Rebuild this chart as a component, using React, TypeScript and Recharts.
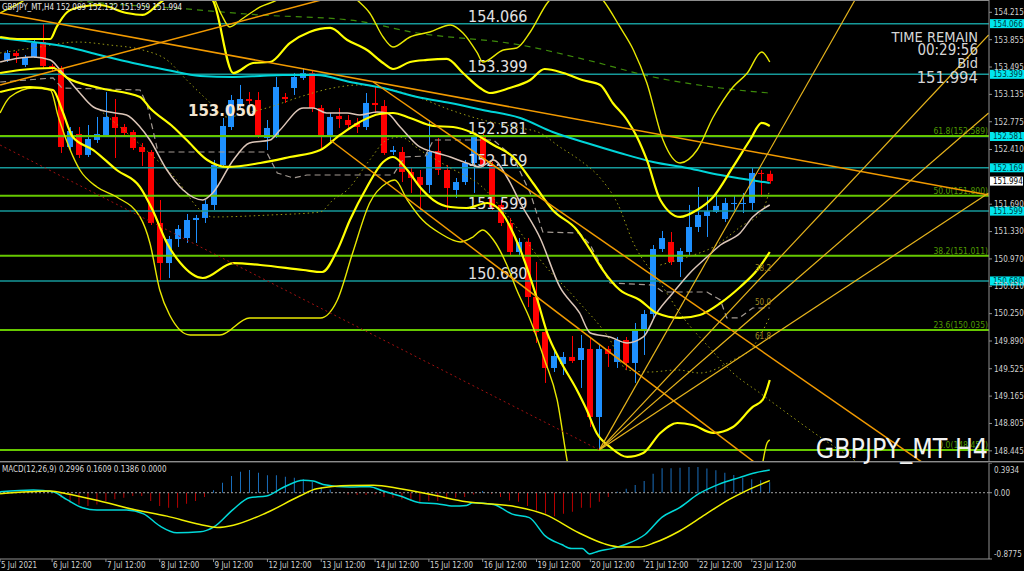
import React from "react"
import {
  Bar,
  Cell,
  ComposedChart,
  Line,
  ReferenceLine,
  XAxis,
  YAxis,
} from "recharts"

type Pt = [number, number]

const NARROW =
  "'Liberation Sans Narrow', 'DejaVu Sans Condensed', 'Liberation Sans', sans-serif"

// GBPJPY H4 bars, index 0 = 5 Jul 16:00 ... 85 = 23 Jul 20:00
const opens = [
  153.588, 153.68, 153.522, 153.627, 153.824, 153.509, 153.482, 152.443, 152.614, 152.338,
  152.535, 152.601, 152.838, 152.706, 152.64, 152.443, 152.377, 151.443, 150.916, 151.232,
  151.245, 151.482, 151.509, 151.68, 152.206, 152.706, 152.995, 153.074, 153.061, 152.561,
  152.601, 153.101, 153.219, 153.351, 153.416, 152.956, 152.601, 152.851, 152.798, 152.759,
  152.706, 153.022, 152.982, 152.377, 152.377, 152.114, 152.048, 151.943, 152.39, 152.14,
  151.877, 151.982, 152.232, 152.574, 152.206, 151.68, 151.443, 151.061, 151.193, 150.469,
  150.008, 149.535, 149.588, 149.68, 149.64, 149.785, 148.89, 149.785, 149.614, 149.903,
  149.601, 150.035, 150.245, 151.101, 151.193, 150.93, 151.061, 151.39, 151.535, 151.588,
  151.495, 151.693, 151.693, 151.706, 152.101, 152.089,
]
const highs = [
  153.719, 153.706, 153.653, 153.851, 154.074, 153.535, 153.509, 152.706, 152.706, 152.732,
  152.838, 153.166, 153.074, 152.745, 152.666, 152.495, 152.403, 151.745, 151.272, 151.416,
  151.561, 151.548, 151.745, 152.272, 152.824, 153.127, 153.259, 153.166, 153.166, 152.798,
  153.364, 153.153, 153.416, 153.482, 153.456, 152.995, 152.89, 152.956, 152.864, 152.824,
  153.153, 153.232, 153.061, 152.456, 152.443, 152.166, 152.14, 152.798, 152.561, 152.206,
  152.035, 152.272, 152.601, 152.614, 152.245, 151.745, 151.509, 151.245, 151.245, 150.93,
  150.061, 149.759, 149.745, 149.956, 149.969, 149.943, 149.838, 149.824, 149.943, 149.943,
  150.127, 150.298, 151.153, 151.338, 151.324, 151.114, 151.68, 151.916, 151.811, 151.838,
  151.772, 151.811, 151.838, 152.166, 152.14, 152.132,
]
const lows = [
  153.561, 153.548, 153.495, 153.614, 153.482, 153.43, 152.364, 152.403, 152.298, 152.311,
  152.495, 152.574, 152.298, 152.587, 152.403, 152.193, 151.416, 150.693, 150.719, 151.127,
  151.18, 151.18, 151.443, 151.614, 152.18, 152.666, 152.956, 153.009, 152.561, 152.403,
  152.561, 153.022, 153.127, 153.324, 152.903, 152.43, 152.508, 152.693, 152.666, 152.627,
  152.666, 152.89, 152.338, 152.338, 151.982, 151.838, 151.614, 151.838, 152.074, 151.614,
  151.772, 151.943, 151.838, 152.18, 151.614, 151.403, 151.009, 151.009, 150.337, 149.864,
  149.338, 149.482, 149.443, 149.601, 149.272, 148.759, 148.457, 149.548, 149.535, 149.509,
  149.338, 149.706, 150.193, 151.061, 150.89, 150.732, 151.022, 151.324, 151.259, 151.574,
  151.456, 151.614, 151.574, 151.614, 151.785, 151.959,
]
const closes = [
  153.68, 153.64, 153.627, 153.811, 153.509, 153.469, 152.443, 152.653, 152.338, 152.548,
  152.614, 152.838, 152.693, 152.627, 152.43, 152.377, 151.443, 150.916, 151.232, 151.364,
  151.482, 151.509, 151.693, 152.206, 152.719, 153.061, 153.074, 153.048, 152.601, 152.693,
  153.232, 153.074, 153.364, 153.416, 152.956, 152.601, 152.838, 152.811, 152.732, 152.706,
  153.022, 152.995, 152.364, 152.403, 152.114, 152.035, 151.943, 152.377, 152.14, 151.903,
  151.982, 152.232, 152.574, 152.206, 151.653, 151.443, 151.061, 151.193, 150.469, 150.008,
  149.535, 149.693, 149.68, 149.627, 149.798, 148.89, 149.785, 149.719, 149.903, 149.601,
  150.022, 150.245, 151.101, 151.245, 150.93, 151.074, 151.39, 151.548, 151.601, 151.667,
  151.706, 151.706, 151.706, 152.101, 152.088, 151.994,
]

const X_MIN = -0.81
const X_MAX = 109.44
const PRICE_MIN = 148.311
const PRICE_MAX = 154.377
const MACD_MIN = -0.8775
const MACD_MAX = 0.3934

const priceTicks = [
  154.215, 153.855, 153.495, 153.135, 152.775, 152.41, 151.69, 151.33, 150.97, 150.61,
  150.25, 149.89, 149.525, 149.165, 148.805, 148.445,
]
const dateTickIdx = [X_MIN, 5, 11, 17, 23, 29, 35, 41, 47, 53, 59, 65, 71, 77, 83]
const dateTickText = [
  "5 Jul 2021", "6 Jul 12:00", "7 Jul 12:00", "8 Jul 12:00", "9 Jul 12:00",
  "12 Jul 12:00", "13 Jul 12:00", "14 Jul 12:00", "15 Jul 12:00", "16 Jul 12:00",
  "19 Jul 12:00", "20 Jul 12:00", "21 Jul 12:00", "22 Jul 12:00", "23 Jul 12:00",
]
const levelPrices = [154.066, 153.399, 152.581, 152.169, 151.599, 150.68]
const fibRatios = ["61.8", "50.0", "38.2", "23.6", "0.0"]
const fibPrices = [152.589, 151.8, 151.011, 150.035, 148.457]
const bidPrice = 151.994

// bollinger bands, [bar index, price]
const bbUpper3: Pt[] = [
  [-0.8, 154.206], [1.4, 154.338], [3.6, 154.509], [10.3, 154.903], [20.4, 154.772],
  [22.9, 154.443], [23.9, 154.18], [24.8, 154.022], [26, 154.114], [28.2, 154.285],
  [30.1, 154.377], [32.6, 154.574], [37.1, 154.574], [39, 154.377], [40.4, 154.206],
  [41.9, 153.89], [43, 153.759], [44.9, 153.89], [47.1, 153.956], [49.4, 154.048],
  [50.8, 153.943], [52.4, 153.68], [53, 153.561], [55.3, 153.719], [56.8, 153.745],
  [58.3, 153.956], [60.2, 154.338], [63.3, 154.574], [65.3, 154.509], [66.4, 154.377],
  [68.3, 154.022], [69.8, 153.719], [71.3, 153.285], [73.1, 152.535], [75, 152.232],
  [76.9, 152.403], [78.7, 152.837], [80.9, 153.232], [82.5, 153.416], [84.1, 153.693],
  [85, 153.561],
]
const bbUpper2: Pt[] = [
  [-0.8, 153.89], [1.1, 153.864], [4.8, 153.864], [5.5, 154.022], [6.7, 154.219],
  [8.1, 154.285], [10.3, 154.311], [13.3, 154.206], [15.1, 154.18], [17, 154.338],
  [18.7, 154.482], [20.9, 154.535], [22.9, 154.377], [25.2, 153.416], [27.4, 153.548],
  [29.3, 153.561], [31.5, 153.811], [33.7, 153.956], [36, 154.009], [37.9, 153.851],
  [40.1, 153.719], [41.9, 153.548], [43, 153.469], [44.9, 153.561], [46.8, 153.588],
  [49, 153.601], [50.8, 153.416], [52.7, 153.219], [53.8, 153.153], [56, 153.219],
  [58.3, 153.324], [59.9, 153.469], [62, 153.416], [64.1, 153.324], [66.1, 153.259],
  [67.5, 153.022], [69.1, 152.798], [70.2, 152.574], [71.3, 152.272], [72.8, 151.745],
  [75, 151.522], [76.9, 151.614], [78.7, 151.785], [80.9, 152.18], [82.8, 152.535],
  [84.1, 152.759], [85, 152.719],
]
const bbMid: Pt[] = [
  [-0.8, 153.416], [1.4, 153.456], [5.1, 153.482], [6.7, 153.351], [10.3, 153.219],
  [14.8, 153.101], [15.9, 152.956], [18.5, 152.706], [20, 152.535], [22.3, 152.272],
  [24.5, 152.18], [28.2, 152.232], [31.5, 152.311], [34.9, 152.403], [37.1, 152.601],
  [39.3, 152.772], [41.5, 152.877], [43, 152.89], [44.9, 152.824], [47.5, 152.719],
  [49.7, 152.706], [51.9, 152.627], [54.2, 152.469], [56.4, 152.311], [58.6, 151.969],
  [60.8, 151.614], [63.5, 151.351], [65, 151.088], [66.4, 150.824], [68.3, 150.561],
  [70.5, 150.43], [72.4, 150.258], [75, 150.193], [77.2, 150.232], [79.5, 150.39],
  [81.7, 150.601], [83.6, 150.824], [85, 151.061],
]
const bbLower2: Pt[] = [
  [-0.8, 153.166], [2.5, 153.232], [5.1, 153.193], [6.1, 152.93], [7.3, 152.574],
  [9.6, 152.403], [12.2, 152.14], [14.8, 151.916], [16.2, 151.614], [17.8, 151.18],
  [19.3, 150.916], [21.8, 150.719], [25.2, 150.916], [28.2, 150.89], [33, 150.824],
  [35.1, 150.798], [36.8, 151.088], [38.2, 151.482], [40.1, 151.917], [41.9, 152.245],
  [43, 152.311], [44.6, 152.14], [46, 151.916], [47.5, 151.745], [49.4, 151.653],
  [51.2, 151.64], [53.5, 151.706], [54.9, 151.614], [57.2, 151.088], [59, 150.469],
  [60.2, 149.995], [61.6, 149.64], [63.5, 149.245], [64.6, 148.982], [65.7, 148.68],
  [67.2, 148.495], [69.1, 148.364], [70.9, 148.416], [72.8, 148.68], [74.7, 148.811],
  [76.4, 148.785], [78.7, 148.68], [80.9, 148.759], [83.1, 149.022], [84.2, 149.114],
  [85, 149.377],
]
const bbLower3: Pt[] = [
  [-0.8, 152.89], [0.3, 153.101], [2.9, 153.219], [4.8, 153.193], [5.7, 152.837],
  [8.1, 152.14], [10, 151.916], [12.2, 151.785], [14.8, 151.522], [15.9, 151.18],
  [17, 150.561], [18.1, 150.232], [20.4, 149.969], [23.7, 149.969], [27, 150.193],
  [31.5, 150.193], [34.9, 150.193], [36.8, 150.43], [38.5, 151.048], [40.4, 151.706],
  [42.3, 151.969], [43.2, 152.009], [44.6, 151.745], [46.3, 151.482], [48.2, 151.311],
  [50.5, 151.193], [51.9, 151.258], [53, 151.351], [54.2, 151.219], [55.7, 150.89],
  [56.8, 150.561], [58.3, 150.167], [59.9, 149.64], [61.3, 149.114], [62.4, 148.324],
  [63.8, 147.535], [68.3, 146.745], [77.2, 146.482], [82.2, 147.403], [83.9, 148.087],
  [84.7, 148.548], [85, 148.588],
]

// moving averages
const maCyan: Pt[] = [
  [-0.8, 153.877], [2.9, 153.824], [6.7, 153.759], [10.3, 153.653], [14, 153.548],
  [17.8, 153.456], [21.5, 153.377], [25.2, 153.364], [28.2, 153.377], [30.7, 153.39],
  [34.5, 153.39], [38.2, 153.298], [41.9, 153.219], [45.7, 153.101], [49.4, 153.022],
  [53, 152.93], [57.2, 152.824], [60.8, 152.64], [64.6, 152.495], [68.3, 152.364],
  [72, 152.245], [75.8, 152.166], [79.5, 152.074], [85, 151.969],
]
const maGreen: Pt[] = [
  [-0.8, 154.509], [10.3, 154.338], [18.5, 154.272], [28.2, 154.18], [38.2, 154.114],
  [45.7, 153.943], [57.2, 153.785], [64.6, 153.588], [72, 153.364], [79.5, 153.219],
  [85, 153.153],
]
const maFast: Pt[] = [
  [-0.8, 153.561], [1.4, 153.614], [2.9, 153.627], [4.8, 153.588], [5.9, 153.456],
  [7.8, 153.193], [9.6, 152.969], [11.4, 152.903], [13.3, 152.864], [14.8, 152.706],
  [15.9, 152.535], [17.8, 152.14], [19.6, 151.877], [21.8, 151.745], [22.9, 151.838],
  [25.2, 152.272], [27, 152.495], [29.3, 152.535], [30.4, 152.666], [33, 152.956],
  [34.1, 152.956], [35.6, 152.89], [37.9, 152.89], [39.3, 152.864], [41.2, 152.903],
  [42.3, 152.89], [43.8, 152.706], [46, 152.443], [47.5, 152.377], [49.4, 152.311],
  [51.2, 152.232], [52.7, 152.18], [54.2, 152.272], [55.7, 152.048], [57.2, 151.706],
  [59.4, 151.245], [61.6, 150.601], [63.8, 150.259], [65, 149.995], [67.2, 149.943],
  [69.1, 149.864], [70.9, 149.943], [72.4, 150.259], [74.2, 150.522], [76.1, 150.785],
  [78, 150.995], [79.5, 151.153], [81.7, 151.311], [83.1, 151.522], [85, 151.68],
]
const spanDotted: Pt[] = [
  [-0.8, 153.68], [3.6, 153.759], [7.8, 153.824], [11.4, 153.785], [15.1, 153.719],
  [17.8, 153.588], [20, 153.324], [22.3, 153.061], [24.5, 152.837], [26.7, 152.89],
  [29.3, 152.969], [32.6, 153.101], [36.3, 153.219], [39.3, 153.259], [41.9, 153.219],
  [45.7, 153.101], [49.4, 152.93], [53, 152.798], [57.2, 152.693], [59.4, 152.627],
  [61.6, 152.443], [63.8, 152.272], [66.1, 152.035], [68, 151.706], [69.8, 151.18],
  [72.8, 150.653], [75.3, 150.206], [78.3, 149.798], [80.9, 149.469], [83.9, 149.206],
  [86.9, 148.943], [90.6, 148.627], [94.7, 148.298], [97.3, 148.061],
]
const maDotted: Pt[] = [
  [10.3, 152.93], [15.1, 152.443], [18.9, 152.009], [21.5, 151.614], [22.9, 151.522],
  [29.3, 151.548], [34.9, 151.588], [36.3, 151.745], [37.9, 151.877], [40.4, 152.272],
  [42.3, 152.535], [43.8, 152.574], [46, 152.403], [49.4, 152.166], [52.7, 151.943],
  [56.4, 151.443], [59.7, 150.916], [63.5, 150.43], [67.2, 149.903], [69.1, 149.509],
  [71.6, 149.482], [74.7, 149.509], [77.2, 149.469], [80.9, 149.64], [83.1, 149.811],
  [85, 150.206],
]
const maDottedFast: Pt[] = [
  [72.8, 150.89], [75.8, 150.995], [78.7, 151.127], [81.7, 151.39], [84.2, 151.614],
  [85, 151.877],
]
const kijunStep: Pt[] = [
  [-0.8, 153.298], [5.1, 153.351], [6.1, 153.219], [14.8, 153.193], [15.6, 152.995],
  [16.8, 152.377], [28.9, 152.377], [30.1, 152.101], [31.9, 152.035], [33.4, 152.074],
  [43, 152.074], [44.3, 152.311], [46.6, 152.324], [47.5, 152.535], [54.2, 152.535],
  [56.4, 152.311], [58.3, 151.837], [59.7, 151.324], [63.8, 151.311], [65, 151.153],
  [67.2, 150.653], [72, 150.627], [73.1, 150.535], [78, 150.535], [79.5, 150.43],
  [80.2, 150.193], [81.6, 150.193], [83.1, 150.324], [85, 150.324],
]

// drawn objects
const trendOrange: Pt[][] = [
  [[-0.8, 154.206], [109.4, 151.811]],
  [[-0.8, 153.259], [37.1, 154.443]],
  [[40.8, 153.298], [102.1, 148.285]],
  [[36, 152.535], [83.4, 148.285]],
]
const trendRed: Pt[] = [[-0.8, 152.469], [66, 148.457]]
const fanLines: Pt[][] = [
  [[66, 148.457], [94.5, 154.377]],
  [[66, 148.457], [109.4, 153.917]],
  [[66, 148.457], [109.4, 152.89]],
  [[66, 148.457], [109.4, 151.838]],
]
const fanLabels = ["38.2", "50.0", "61.8"]

// MACD(12,26,9)
const macdHist = [
  0, 0, 0, 0, 0, 0, -0.066, -0.133, -0.155, -0.177, -0.155, -0.111, -0.088, -0.066, -0.044,
  -0.044, -0.111, -0.177, -0.199, -0.199, -0.146, -0.111, -0.058, 0.031, 0.133, 0.221, 0.279,
  0.301, 0.265, 0.23, 0.23, 0.212, 0.199, 0.177, 0.146, 0.075, 0.044, 0.01, -0.022, -0.031,
  -0.031, -0.022, -0.058, -0.066, -0.088, -0.111, -0.133, -0.111, -0.111, -0.088, -0.066,
  -0.058, -0.022, 0.022, -0.013, -0.058, -0.102, -0.119, -0.177, -0.235, -0.279, -0.31,
  -0.279, -0.252, -0.199, -0.199, -0.119, -0.058, 0.013, 0.053, 0.102, 0.155, 0.252, 0.323,
  0.323, 0.332, 0.341, 0.341, 0.319, 0.296, 0.265, 0.235, 0.199, 0.177, 0.164, 0.1386,
]
const macdMain: Pt[] = [
  [-0.8, 0.013], [2.9, 0.035], [5.1, 0.013], [6.6, -0.088], [8.4, -0.2], [10, -0.23],
  [13.3, -0.23], [15.2, -0.28], [17, -0.44], [18.9, -0.53], [21.5, -0.518], [23, -0.456],
  [25.2, -0.22], [27, -0.066], [28.9, -0.044], [30.7, 0.066], [33, 0.164], [34.1, 0.155],
  [35.2, 0.11], [38.2, 0.075], [40.4, 0.08], [41.9, 0.022], [43.8, -0.044], [46, -0.133],
  [47.9, -0.146], [49.7, -0.177], [51.2, -0.168], [51.9, -0.133], [54.2, -0.155],
  [56.3, -0.283], [58.2, -0.33], [60, -0.575], [61.8, -0.686], [62.9, -0.74], [64.1, -0.74],
  [64.9, -0.81], [65.9, -0.774], [67.4, -0.74], [68.9, -0.686], [71.1, -0.553], [73, -0.323],
  [74.9, -0.2], [77.1, -0.013], [79.3, 0.111], [81.6, 0.2], [83.4, 0.265], [85, 0.2996],
]
const macdSignal: Pt[] = [
  [-0.8, -0.013], [4.8, 0.022], [6.6, -0.013], [10.3, -0.11], [14, -0.22], [17.8, -0.31],
  [21.5, -0.42], [23.4, -0.46], [25.2, -0.43], [28.9, -0.265], [32.6, -0.044], [34.5, 0.053],
  [38.2, 0.097], [40.8, 0.1], [43.8, 0.053], [47.5, -0.031], [51.2, -0.12], [56.3, -0.177],
  [60, -0.29], [63.7, -0.53], [66.6, -0.677], [68.5, -0.72], [70.4, -0.72], [72.2, -0.66],
  [74.9, -0.51], [77.8, -0.29], [80.5, -0.088], [82.3, 0.022], [85, 0.1609],
]

const BLUE = "#1e90ff"
const RED = "#ff0000"
const TEAL = "#16999a"
const FIB = "#66c800"

const rows = (pts: Pt[]) => pts.map(([x, v]) => ({ x, v }))

const candles = opens.map((o, i) => ({
  x: i,
  open: o,
  high: highs[i],
  low: lows[i],
  close: closes[i],
}))
const histRows = macdHist.map((h, i) => ({ x: i, h }))

function Candle(props: any) {
  const { x, y, width, height, payload } = props
  const { open, close, high, low } = payload
  const color = close >= open ? BLUE : RED
  const cx = Math.round(x + width / 2) + 0.5
  const span = high - low
  const py = (v: number) => (span === 0 ? y : y + ((high - v) / span) * height)
  const top = py(Math.max(open, close))
  const bot = py(Math.min(open, close))
  return (
    <g>
      <line x1={cx} x2={cx} y1={y} y2={y + height} stroke={color} strokeWidth={1} />
      <rect x={cx - 3.5} y={top} width={6} height={Math.max(1, bot - top)} fill={color} />
    </g>
  )
}

function levelLabel(price: number) {
  return (props: any) => {
    const vb = props.viewBox
    const text = price.toFixed(3)
    return (
      <g>
        <text x={vb.x + 468} y={vb.y - 2} fill="#e2e2e2" fontSize={16} fontFamily={NARROW}>
          {text}
        </text>
        <rect x={vb.x + vb.width + 1} y={vb.y - 4.5} width={34} height={9} fill="#00e6ee" />
        <text x={vb.x + vb.width + 4} y={vb.y + 3} fill="#00383c" fontSize={8} fontFamily={NARROW}>
          {text}
        </text>
      </g>
    )
  }
}

function fibLabel(ratio: string, price: number) {
  return (props: any) => {
    const vb = props.viewBox
    return (
      <text
        x={vb.x + vb.width - 1}
        y={vb.y - 1.5}
        textAnchor="end"
        fill="#4f9a00"
        fontSize={8.5}
        fontFamily={NARROW}
      >
        {`${ratio}(${price.toFixed(3)})`}
      </text>
    )
  }
}

function bidLabel(props: any) {
  const vb = props.viewBox
  return (
    <g>
      <rect x={vb.x + vb.width + 1} y={vb.y - 4.5} width={33} height={9} fill="#ffffff" />
      <text x={vb.x + vb.width + 4} y={vb.y + 3} fill="#000000" fontSize={8} fontFamily={NARROW}>
        {bidPrice.toFixed(3)}
      </text>
    </g>
  )
}

function dateTick(props: any) {
  const i = dateTickIdx.indexOf(props.payload.value)
  return (
    <text
      x={props.x + 1}
      y={props.y}
      dy="0.71em"
      fill="#d0d0d0"
      fontSize={8}
      fontFamily={NARROW}
    >
      {dateTickText[i]}
    </text>
  )
}

function macdTick(props: any) {
  const v = props.payload.value
  const label = v === 0 ? "0.00" : v.toFixed(4)
  const dy = v === MACD_MAX ? 10 : v === MACD_MIN ? -2 : 3
  return (
    <text x={props.x} y={props.y + dy} fill="#d0d0d0" fontSize={8} fontFamily={NARROW}>
      {label}
    </text>
  )
}

const line = (
  key: string,
  pts: Pt[],
  color: string,
  width: number,
  dash?: string,
  curve: "monotone" | "linear" = "monotone"
) => (
  <Line
    key={key}
    data={rows(pts)}
    dataKey="v"
    type={curve}
    stroke={color}
    strokeWidth={width}
    strokeDasharray={dash}
    dot={false}
    activeDot={false}
    isAnimationActive={false}
  />
)

export default function App() {
  return (
    <div
      style={{
        position: "fixed",
        left: 0,
        top: 0,
        width: 1024,
        height: 571,
        background: "#000",
        overflow: "hidden",
      }}
    >
      <div style={{ position: "absolute", left: 0, top: 0 }}>
        <ComposedChart width={1024} height={461} data={candles} margin={{ top: 0, right: 0, bottom: 0, left: 0 }}>
          <XAxis dataKey="x" type="number" domain={[X_MIN, X_MAX]} allowDataOverflow hide />
          <YAxis
            orientation="right"
            width={35}
            type="number"
            domain={[PRICE_MIN, PRICE_MAX]}
            allowDataOverflow
            ticks={priceTicks}
            interval={0}
            tickFormatter={(v: number) => v.toFixed(3)}
            tick={{ fill: "#d0d0d0", fontSize: 8, fontFamily: NARROW }}
            tickSize={3}
            tickMargin={2}
            tickLine={{ stroke: "#909090" }}
            axisLine={{ stroke: "#909090" }}
          />
          {levelPrices.map((p) => (
            <ReferenceLine key={`lv${p}`} y={p} stroke={TEAL} strokeWidth={1.5} label={levelLabel(p)} />
          ))}
          {fibPrices.map((p, i) => (
            <ReferenceLine key={`fb${p}`} y={p} stroke={FIB} strokeWidth={2} label={fibLabel(fibRatios[i], p)} />
          ))}
          <ReferenceLine y={bidPrice} strokeOpacity={0} label={bidLabel} />

          <Bar
            dataKey={(d: any) => [d.low, d.high]}
            barSize={6}
            shape={<Candle />}
            isAnimationActive={false}
          />

          {line("green", maGreen, "#3d8a0a", 1.2, "6 5")}
          {line("span", spanDotted, "#9a9a14", 1, "1.5 3")}
          {line("madot", maDotted, "#9a9a14", 1, "1.5 3")}
          {line("madotf", maDottedFast, "#9a9a14", 1, "1.5 3")}
          {line("kijun", kijunStep, "#a39a92", 1.2, "6 4", "linear")}
          {line("cyan", maCyan, "#00d4d8", 2)}
          {line("fast", maFast, "#dcc6b8", 1.5)}
          {line("up3", bbUpper3, "#e8e800", 1.4)}
          {line("lo3", bbLower3, "#e8e800", 1.4)}
          {line("up2", bbUpper2, "#ffff00", 2.2)}
          {line("mid", bbMid, "#ffff00", 2.2)}
          {line("lo2", bbLower2, "#ffff00", 2.2)}
          {trendOrange.map((t, i) => line(`or${i}`, t, "#f29a00", 1.5, undefined, "linear"))}
          {line("red", trendRed, "#a01010", 1, "2 3", "linear")}
          {fanLines.map((t, i) => line(`fan${i}`, t, "#e6b41c", 1.2, undefined, "linear"))}
        </ComposedChart>
      </div>

      <div style={{ position: "absolute", left: 0, top: 0, width: 989, height: 1, background: "#8c8c8c" }} />
      <div style={{ position: "absolute", left: 0, top: 461, width: 1024, height: 1, background: "#8c8c8c" }} />
      <div style={{ position: "absolute", left: 0, top: 462, width: 1024, height: 1, background: "#3a3a3a" }} />

      <div style={{ position: "absolute", left: 0, top: 463 }}>
        <ComposedChart width={1024} height={108} data={histRows} margin={{ top: 0, right: 0, bottom: 0, left: 0 }}>
          <XAxis
            dataKey="x"
            type="number"
            domain={[X_MIN, X_MAX]}
            allowDataOverflow
            ticks={dateTickIdx}
            interval={0}
            height={12}
            tick={dateTick}
            tickSize={3}
            tickMargin={0}
            tickLine={{ stroke: "#909090" }}
            axisLine={{ stroke: "#909090" }}
          />
          <YAxis
            orientation="right"
            width={35}
            type="number"
            domain={[MACD_MIN, MACD_MAX]}
            allowDataOverflow
            ticks={[MACD_MAX, 0, MACD_MIN]}
            interval={0}
            tick={macdTick}
            tickSize={3}
            tickMargin={2}
            tickLine={{ stroke: "#909090" }}
            axisLine={{ stroke: "#909090" }}
          />
          <ReferenceLine y={0} stroke="#a0a0a0" strokeDasharray="2 2" />
          <Bar dataKey="h" barSize={2} isAnimationActive={false}>
            {histRows.map((r) => (
              <Cell key={r.x} fill={r.h >= 0 ? "#2088e8" : "#e00000"} />
            ))}
          </Bar>
          {line("macd", macdMain, "#00d8d8", 1.5)}
          {line("signal", macdSignal, "#f0f000", 1.5)}
        </ComposedChart>
      </div>

      <svg
        width={1024}
        height={571}
        style={{ position: "absolute", left: 0, top: 0, pointerEvents: "none" }}
      >
        <text x={2} y={10} fill="#e8e8e8" fontSize={8} fontFamily={NARROW}>
          GBPJPY_MT,H4  152.089 152.132 151.959 151.994
        </text>
        <text x={188} y={116} fill="#f4e6d2" fontSize={15} fontWeight="bold" fontFamily="'DejaVu Sans', sans-serif">
          153.050
        </text>
        <g fill="#d6d6d6" fontFamily={NARROW} textAnchor="end">
          <text x={978} y={42} fontSize={14.5}>TIME REMAIN</text>
          <text x={978} y={55} fontSize={15}>00:29:56</text>
          <text x={978} y={68} fontSize={14.5}>Bid</text>
          <text x={978} y={83} fontSize={16.5}>151.994</text>
        </g>
        <g fill="#a08a20" fontSize={8} fontFamily={NARROW}>
          {fanLabels.map((t, i) => (
            <text key={t} x={755} y={271 + i * 34}>
              {t}
            </text>
          ))}
        </g>
        <text x={988} y={458} textAnchor="end" fill="#f2f2f2" fontSize={26.5} fontFamily={NARROW}>
          GBPJPY_MT H4
        </text>
        <text x={2} y={472} fill="#d8d8d8" fontSize={8} fontFamily={NARROW}>
          MACD(12,26,9) 0.2996 0.1609 0.1386 0.0000
        </text>
      </svg>
    </div>
  )
}
